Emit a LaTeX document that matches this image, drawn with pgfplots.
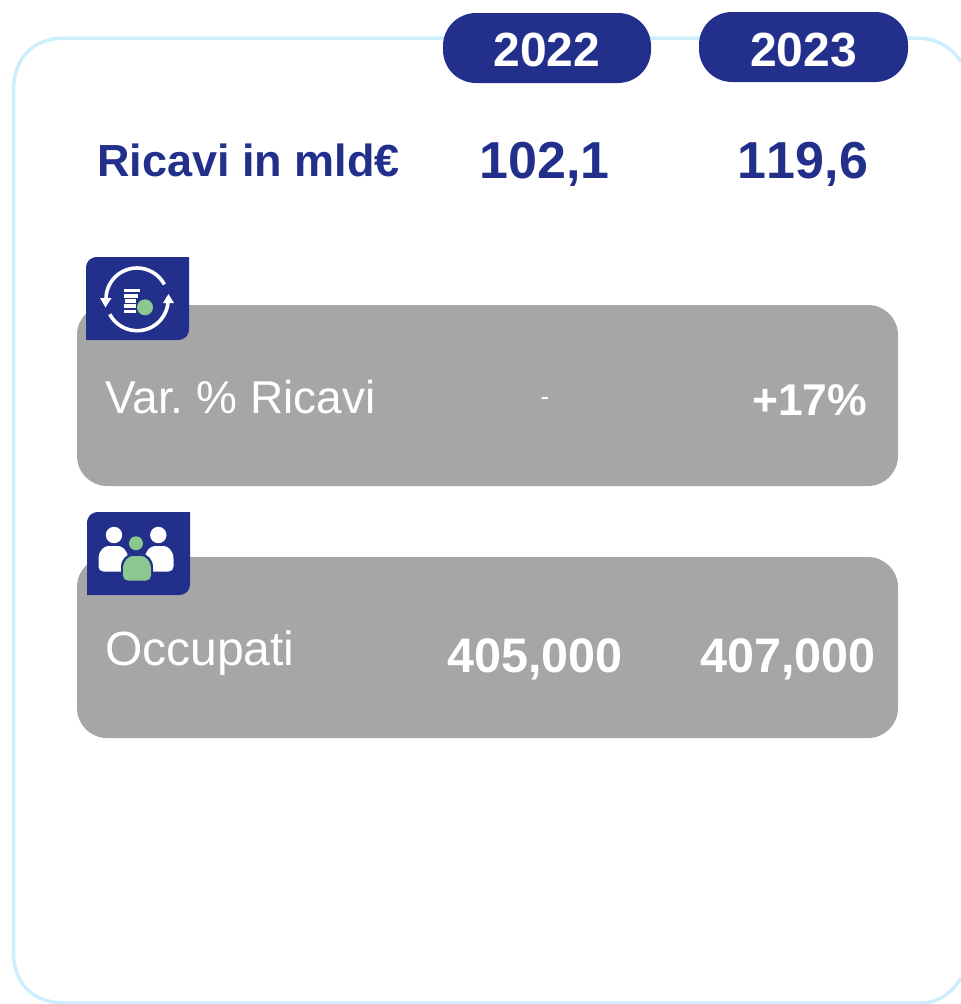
\documentclass[border=0pt]{standalone}
\usepackage{fontspec}
\setmainfont{Liberation Sans}
\frenchspacing
\usepackage{pgfplots}
\pgfplotsset{compat=1.18}
\definecolor{navy}{HTML}{22308B}
\definecolor{frame}{HTML}{CDEFFD}
\definecolor{boxg}{HTML}{A6A6A6}
\definecolor{lgreen}{HTML}{8CC78F}
\newcommand{\T}[6]{\node[anchor=base west,inner sep=0pt,text=#5] at (#1,#2) {\fontsize{#3}{#3}\selectfont#4#6};}
\newcommand{\C}[6]{\node[anchor=base,inner sep=0pt,text=#5] at (#1,#2) {\fontsize{#3}{#3}\selectfont#4#6};}
\newcommand{\body}[5]{% x0 x1 y0 y1 colour
  \fill[#5] (#1,{#4-5}) -- (#1,{#3+13}) .. controls (#1,{#3+4}) and ({#1+6},#3) .. ({#1+10},#3) -- ({#2-10},#3) .. controls ({#2-6},#3) and (#2,{#3+4}) .. (#2,{#3+13}) -- (#2,{#4-5}) .. controls (#2,{#4-2}) and ({#2-2},#4) .. ({#2-5},#4) -- ({#1+5},#4) .. controls ({#1+2},#4) and (#1,{#4-2}) .. (#1,{#4-5}) -- cycle;}
\begin{document}
\begin{tikzpicture}
\useasboundingbox (0,0) rectangle (961pt,1004pt);
\clip (0,0) rectangle (961pt,1004pt);
\begin{axis}[
  at={(0,0)},anchor=south west,
  scale only axis,width=961pt,height=1004pt,
  xmin=0,xmax=961,ymin=0,ymax=1004,y dir=reverse,
  hide axis,clip=true,
]
% frame
\draw[frame,line width=3.5pt] (13.5,90) .. controls (13.5,58) and (33,38) .. (65,38) -- (915,38) .. controls (938,38) and (952,48) .. (961,62);
\draw[frame,line width=3.5pt] (13.5,90) -- (13.5,952) .. controls (13.5,984) and (33,1003) .. (65,1003) -- (920,1003) .. controls (938,1003) and (952,993) .. (961,978);
% pills
\fill[navy,rounded corners=33pt] (443,13) rectangle (651,83);
\fill[navy,rounded corners=33pt] (699,12) rectangle (908,82);
\C{547}{66}{48}{\bfseries}{white}{2022}
\C{803.5}{66}{48}{\bfseries}{white}{2023}
% revenue
\T{97}{176}{45}{\bfseries}{navy}{Ricavi in mld€}
\C{544.5}{178}{52}{\bfseries}{navy}{102,1}
\C{803}{178}{52}{\bfseries}{navy}{1\kern0pt 19,6}
% boxes
\fill[boxg,rounded corners=30pt] (77,305) rectangle (898,486);
\fill[boxg,rounded corners=30pt] (77,557) rectangle (898,738);
% icon 1
\fill[navy] (86,340) -- (86,269) .. controls (86,261) and (90,257) .. (98,257) -- (189,257) -- (189,328) .. controls (189,336) and (185,340) .. (177,340) -- cycle;
\draw[white,line width=3.6pt] (106,299) arc[start angle=180,end angle=28,radius=31pt];
\draw[white,line width=3.6pt] (168,297) arc[start angle=5,end angle=-152,radius=31pt];
\fill[white] (105.5,307.5) -- (100,298) -- (111.5,298) -- cycle;
\fill[white] (168.5,294) -- (163,303) -- (174,303) -- cycle;
\fill[white] (124,288.5) rectangle (140,292);
\fill[white] (124,294) rectangle (138,297.5);
\fill[white] (125,299) rectangle (136,302.5);
\fill[white] (124,304) rectangle (136,307.5);
\fill[white] (124,309.5) rectangle (136,313);
\fill[lgreen] (145,307.3) circle[radius=8pt];
% icon 2
\fill[navy] (87,595) -- (87,524) .. controls (87,516) and (91,512) .. (99,512) -- (190,512) -- (190,583) .. controls (190,591) and (186,595) .. (178,595) -- cycle;
\fill[white] (114,535) circle[radius=8.2pt];
\fill[white] (158.3,535) circle[radius=8.2pt];
\body{98.5}{128}{546}{571.5}{white}
\body{145}{173.5}{546}{571.5}{white}
\body{121}{153}{554.5}{582}{navy}
\body{123}{151}{556}{580.5}{lgreen}
\fill[lgreen] (136,543.3) circle[radius=7pt];
% labels
\T{105}{413}{46}{}{white}{Var. \% Ricavi}
\C{545}{405}{26}{}{white}{-}
\T{752}{415}{44.5}{\bfseries}{white}{+17\%}
\T{105}{665}{48}{}{white}{Occupati}
\T{447}{672}{48.5}{\bfseries}{white}{405,000}
\T{700}{672}{48.5}{\bfseries}{white}{407,000}
\end{axis}
\end{tikzpicture}
\end{document}
